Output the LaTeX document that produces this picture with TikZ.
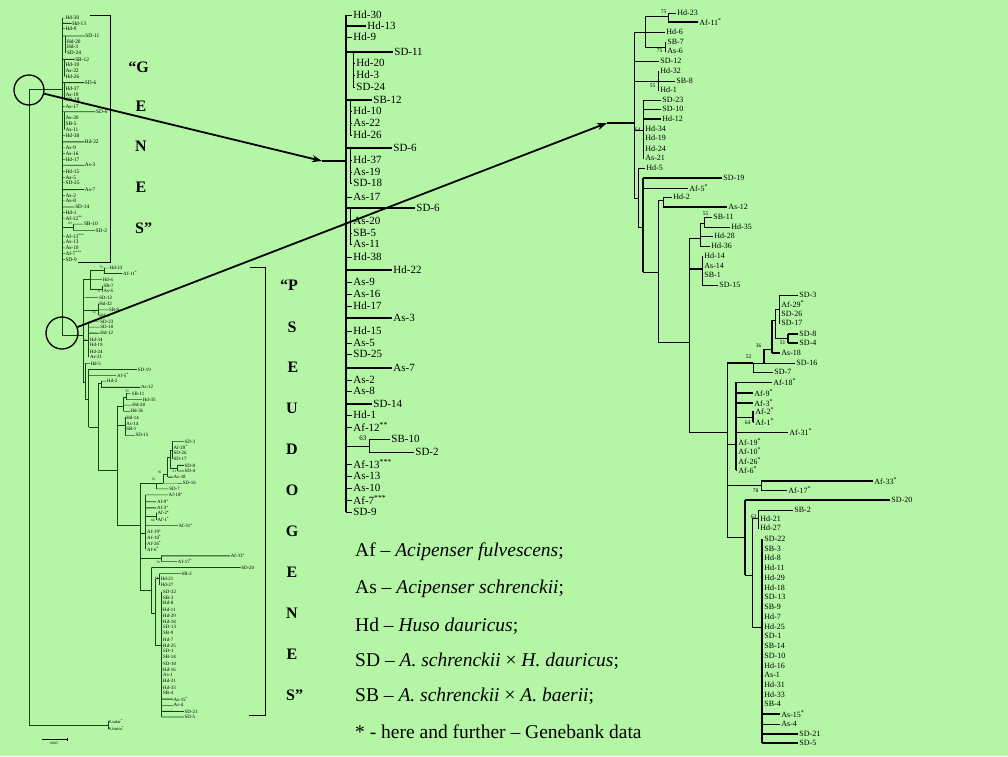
\documentclass[tikz,border=0pt]{standalone}
\usepackage{fontspec}
\setmainfont{Liberation Serif}
\usetikzlibrary{arrows.meta}
\definecolor{bg}{RGB}{180,246,166}
\definecolor{dg}{RGB}{20,70,20}

\newcount\lfno
\newcommand\lf[5]{\global\advance\lfno by 1\relax
  \node[leaf] (#1l\the\lfno) at (#3,#4) {#5};
  \draw[br] (#2,#4) -- (#1l\the\lfno.west);}
\newcommand\lft[5]{\global\advance\lfno by 1\relax
  \node[leaf] (#1l\the\lfno) at (#3,#4) {#5};
  \draw[thk] (#2,#4) -- (#1l\the\lfno.west);}
\newcommand\vl[3]{\draw[br] (#1,#2) -- (#1,#3);}
\newcommand\vlt[3]{\draw[thk] (#1,#2) -- (#1,#3);}
\newcommand\hl[3]{\draw[br] (#2,#1) -- (#3,#1);}
\newcommand\hlt[3]{\draw[thk] (#2,#1) -- (#3,#1);}
\newcommand\bs[4]{\node[boot] (#1) at (#2,#3) {#4};}
\newcommand\st{\textsuperscript{*}}

\newcommand\genestree[1]{%
  \hlt{161}{322}{346}
  \vlt{346}{15}{512}
  \lf{#1}{346}{352}{15}{Hd-30}
  \lft{#1}{346}{366}{26}{Hd-13}
  \lf{#1}{346}{352}{37}{Hd-9}
  \vl{353}{52}{87}
  \lft{#1}{346}{393}{52}{SD-11}
  \lf{#1}{353}{355}{63}{Hd-20}
  \lf{#1}{353}{355}{75}{Hd-3}
  \lf{#1}{353}{355}{87}{SD-24}
  \vl{350}{100}{135}
  \lft{#1}{346}{372}{100}{SB-12}
  \lf{#1}{350}{352}{111}{Hd-10}
  \lf{#1}{350}{352}{123}{As-22}
  \lf{#1}{350}{352}{135}{Hd-26}
  \vl{350}{148}{183}
  \lft{#1}{346}{392}{148}{SD-6}
  \lf{#1}{350}{352}{160}{Hd-37}
  \lf{#1}{350}{352}{172}{As-19}
  \lf{#1}{350}{352}{183}{SD-18}
  \lf{#1}{346}{352}{197}{As-17}
  \vl{350}{208}{244}
  \lft{#1}{346}{415}{208}{SD-6}
  \lf{#1}{350}{352}{221}{As-20}
  \lf{#1}{350}{352}{233}{SB-5}
  \lf{#1}{350}{352}{244}{As-11}
  \lf{#1}{346}{352}{257}{Hd-38}
  \lft{#1}{346}{392}{270}{Hd-22}
  \lf{#1}{346}{352}{282}{As-9}
  \lf{#1}{346}{352}{294}{As-16}
  \lf{#1}{346}{352}{306}{Hd-17}
  \lft{#1}{346}{392}{318}{As-3}
  \lf{#1}{346}{352}{331}{Hd-15}
  \lf{#1}{346}{352}{343}{As-5}
  \lf{#1}{346}{352}{354}{SD-25}
  \lft{#1}{346}{392}{368}{As-7}
  \lf{#1}{346}{352}{380}{As-2}
  \lf{#1}{346}{352}{391}{As-8}
  \lft{#1}{346}{372}{404}{SD-14}
  \lf{#1}{346}{352}{415}{Hd-1}
  \lf{#1}{346}{352}{427}{Af-12\textsuperscript{**}}
  \hl{446}{346}{369}
  \vl{369}{439}{452}
  \bs{#1b63}{367}{438}{63}
  \lf{#1}{369}{390}{439}{SB-10}
  \lf{#1}{369}{414}{452}{SD-2}
  \lf{#1}{346}{352}{464}{Af-13\textsuperscript{***}}
  \lf{#1}{346}{352}{476}{As-13}
  \lf{#1}{346}{352}{488}{As-10}
  \lf{#1}{346}{352}{500}{Af-7\textsuperscript{***}}
  \lf{#1}{346}{352}{512}{SD-9}
}

\newcommand\pseudotree[1]{%
  \hlt{123}{607}{634}
  \vl{634}{32}{198}
  \hl{32}{634}{645} \vl{645}{16}{47}
  \hl{16}{645}{668} \vl{668}{13}{22}
  \bs{#1b1}{667}{12}{75}
  \lf{#1}{668}{676}{13}{Hd-23}
  \lft{#1}{668}{698}{22}{Af-11\st}
  \lf{#1}{645}{665}{32}{Hd-6}
  \hl{47}{645}{665} \vl{665}{42}{51}
  \lf{#1}{665}{666}{42}{SB-7}
  \lf{#1}{665}{666}{51}{As-6}
  \bs{#1b2}{663}{51}{75}
  \lf{#1}{634}{659}{61}{SD-12}
  \hl{81}{634}{658} \vl{658}{71}{90}
  \lf{#1}{658}{659}{71}{Hd-32}
  \lf{#1}{658}{675}{81}{SB-8}
  \lf{#1}{658}{659}{90}{Hd-1}
  \bs{#1b3}{656}{86}{55}
  \hl{130}{634}{643} \vl{643}{100}{158}
  \bs{#1b4}{641}{130}{64}
  \lf{#1}{643}{661}{100}{SD-23}
  \lf{#1}{643}{661}{109}{SD-10}
  \lft{#1}{643}{661}{119}{Hd-12}
  \lf{#1}{643}{644}{129}{Hd-34}
  \lf{#1}{643}{644}{138}{Hd-19}
  \lf{#1}{643}{644}{149}{Hd-24}
  \lf{#1}{643}{644}{158}{As-21}
  \hl{198}{634}{638} \vl{638}{168}{227}
  \lf{#1}{638}{645}{168}{Hd-5}
  \hl{227}{638}{643} \vlt{643}{178}{272}
  \lft{#1}{643}{722}{178}{SD-19}
  \lf{#1}{643}{688}{188}{Af-5\st}
  \hl{272}{643}{658} \vl{658}{200}{342}
  \hl{200}{658}{663} \vl{663}{197}{207}
  \lf{#1}{663}{672}{197}{Hd-2}
  \lft{#1}{663}{727}{207}{As-12}
  \hl{342}{658}{689} \vl{689}{238}{432}
  \hl{238}{689}{700} \vl{700}{223}{246}
  \hl{223}{700}{704} \vl{704}{217}{227}
  \bs{#1b5}{709}{214}{55}
  \lf{#1}{704}{712}{217}{SB-11}
  \lf{#1}{704}{730}{227}{Hd-35}
  \lf{#1}{700}{713}{236}{Hd-28}
  \lf{#1}{700}{710}{246}{Hd-36}
  \hlt{269}{689}{702} \vl{702}{256}{285}
  \lf{#1}{702}{703}{256}{Hd-14}
  \lf{#1}{702}{703}{266}{As-14}
  \lf{#1}{702}{703}{275}{SB-1}
  \lf{#1}{702}{718}{285}{SD-15}
  \hl{432}{689}{727} \vl{727}{363}{537}
  \hlt{363}{727}{753} \vl{753}{363}{372}
  \bs{#1b6}{752}{357}{52}
  \lf{#1}{753}{773}{372}{SD-7}
  \hl{363}{753}{764} \vlt{764}{349}{363}
  \bs{#1b7}{762}{346}{36}
  \lf{#1}{764}{795}{363}{SD-16}
  \hl{349}{764}{772} \vlt{772}{320}{353}
  \lft{#1}{772}{780}{353}{As-18}
  \hl{320}{772}{775} \vl{775}{309}{338}
  \hl{338}{775}{788} \vlt{788}{334}{343}
  \lft{#1}{788}{798}{334}{SD-8}
  \lft{#1}{788}{798}{343}{SD-4}
  \bs{#1b8}{786}{343}{51}
  \hl{309}{775}{779} \vl{779}{295}{323}
  \lf{#1}{779}{798}{295}{SD-3}
  \lf{#1}{779}{780}{304}{Af-29\st}
  \lf{#1}{779}{780}{314}{SD-26}
  \lf{#1}{779}{780}{323}{SD-17}
  \hl{444}{727}{736} \vlt{736}{382}{470}
  \lf{#1}{736}{772}{382}{Af-18\st}
  \lft{#1}{736}{753}{393}{Af-9\st}
  \lft{#1}{736}{753}{403}{Af-3\st}
  \hl{417}{736}{753} \vlt{753}{411}{422}
  \lf{#1}{753}{754}{411}{Af-2\st}
  \lf{#1}{753}{754}{422}{Af-1\st}
  \bs{#1b9}{751}{423}{64}
  \lf{#1}{736}{788}{432}{Af-31\st}
  \lf{#1}{736}{737}{442}{Af-19\st}
  \lf{#1}{736}{737}{451}{Af-10\st}
  \lf{#1}{736}{737}{461}{Af-26\st}
  \lf{#1}{736}{737}{470}{Af-6\st}
  \hl{485}{727}{761} \vl{761}{481}{490}
  \lft{#1}{761}{873}{481}{Af-33\st}
  \lf{#1}{761}{787}{490}{Af-17\st}
  \bs{#1b10}{759}{491}{78}
  \hl{537}{727}{745} \vlt{745}{500}{575}
  \lft{#1}{745}{890}{500}{SD-20}
  \hl{575}{745}{752} \vl{752}{518}{627}
  \hl{518}{752}{758} \vl{758}{510}{528}
  \bs{#1b11}{757}{517}{63}
  \lf{#1}{758}{793}{510}{SB-2}
  \lf{#1}{758}{759}{519}{Hd-21}
  \lf{#1}{758}{759}{528}{Hd-27}
  \hl{627}{752}{762} \vlt{762}{539}{743}
  \lf{#1}{762}{763}{539}{SD-22}
  \lf{#1}{762}{763}{549}{SB-3}
  \lf{#1}{762}{763}{558}{Hd-8}
  \lf{#1}{762}{763}{568}{Hd-11}
  \lf{#1}{762}{763}{578}{Hd-29}
  \lf{#1}{762}{763}{588}{Hd-18}
  \lf{#1}{762}{763}{597}{SD-13}
  \lf{#1}{762}{763}{607}{SB-9}
  \lf{#1}{762}{763}{617}{Hd-7}
  \lf{#1}{762}{763}{627}{Hd-25}
  \lf{#1}{762}{763}{636}{SD-1}
  \lf{#1}{762}{763}{646}{SB-14}
  \lf{#1}{762}{763}{656}{SD-10}
  \lf{#1}{762}{763}{666}{Hd-16}
  \lf{#1}{762}{763}{675}{As-1}
  \lf{#1}{762}{763}{685}{Hd-31}
  \lf{#1}{762}{763}{695}{Hd-33}
  \lf{#1}{762}{763}{704}{SB-4}
  \lft{#1}{762}{780}{714}{As-15\st}
  \lf{#1}{762}{780}{724}{As-4}
  \lft{#1}{762}{798}{734}{SD-21}
  \lft{#1}{762}{798}{743}{SD-5}
}

\begin{document}
\begin{tikzpicture}[x=1pt,y=-1pt,
  leaf/.style={anchor=west,inner xsep=1.2pt,inner ysep=0pt,font=\fontsize{11}{11}\selectfont},
  boot/.style={anchor=east,inner sep=0.5pt,font=\fontsize{7}{7}\selectfont},
  br/.style={line width=0.9pt},
  thk/.style={line width=1.9pt},
  letter/.style={inner sep=0pt,font=\fontsize{16}{16}\selectfont\bfseries},
  legend/.style={anchor=west,inner sep=0pt,font=\fontsize{19.5}{19.5}\selectfont},
  arr/.style={line width=1.8pt,-{Stealth[length=10pt,width=7pt]}},
  ring/.style={circle,draw,line width=1.3pt,inner sep=0pt,minimum size=#1}]

\fill[bg] (0,0) rectangle (1008,756);
\useasboundingbox (0,0) rectangle (1008,756);

% ---------- middle tree (genes, enlarged)
\genestree{m}

% ---------- right tree (pseudogenes, enlarged)
\begin{scope}[leaf/.append style={font=\fontsize{8}{8}\selectfont},
              boot/.append style={font=\fontsize{5.5}{5.5}\selectfont},
              br/.style={line width=0.8pt}, thk/.style={line width=1.6pt}]
\pseudotree{r}
\end{scope}

% ---------- left overview tree
\begin{scope}[shift={(-106.2,10.7)},scale=0.486,transform shape,
              br/.style={line width=0.45pt,dg}, thk/.style={line width=0.9pt,dg}]
\genestree{lg}
\end{scope}
\begin{scope}[shift={(-306.9,260)},scale=0.615,transform shape,
              leaf/.append style={font=\fontsize{8}{8}\selectfont},
              boot/.append style={font=\fontsize{5.5}{5.5}\selectfont},
              br/.style={line width=0.45pt,dg}, thk/.style={line width=0.9pt,dg}]
\pseudotree{lp}
\end{scope}
\draw[line width=0.8pt,dg] (29,89) -- (62,89);
\draw[line width=0.8pt,dg] (62,89) -- (62,335.6) -- (67,335.6);
\draw[line width=0.8pt,dg] (29,89) -- (29,725) -- (108,725);
\draw[line width=0.6pt,dg] (108,721) -- (108,729);
\node[anchor=west,inner sep=0.5pt,font=\fontsize{4.5}{4.5}\selectfont] (salar) at (108,721.5) {S.salar\st};
\node[anchor=west,inner sep=0.5pt,font=\fontsize{4.5}{4.5}\selectfont] (trutta) at (108,728.5) {S.trutta\st};
\draw[line width=0.6pt] (42,739) -- (67,739);
\draw[line width=0.6pt] (67,737.5) -- (67,740.5);
\node[inner sep=0pt,font=\fontsize{3.5}{3.5}\selectfont] (scalelbl) at (54,744) {0,005};

% brackets
\draw[line width=0.9pt] (90,15) -- (110,15) -- (110,262) -- (78,262);
\draw[line width=0.9pt] (250,267) -- (265,267) -- (265,715) -- (249,715);

% circles and arrows
\node[ring=30pt] (circ1) at (29,90) {};
\node[ring=32pt] (circ2) at (62,333) {};
\coordinate (mstub) at (322,161);
\coordinate (rstub) at (607,123);
\draw[arr] (circ1) -- (mstub);
\draw[arr] (circ2) -- (rstub);

% GENES
\node[letter,anchor=east] (g1) at (149,67) {“G};
\node[letter] (g2) at (141,106) {E};
\node[letter] (g3) at (141,146) {N};
\node[letter] (g4) at (141,187) {E};
\node[letter,anchor=west] (g5) at (135,228) {S”};
% PSEUDOGENES
\node[letter,anchor=east] (p1) at (298,285) {“P};
\node[letter] (p2) at (292,327) {S};
\node[letter] (p3) at (293,367) {E};
\node[letter] (p4) at (292,408) {U};
\node[letter] (p5) at (292,449) {D};
\node[letter] (p6) at (292,490) {O};
\node[letter] (p7) at (292,531) {G};
\node[letter] (p8) at (292,572) {E};
\node[letter] (p9) at (292,613) {N};
\node[letter] (p10) at (292,654) {E};
\node[letter,anchor=west] (p11) at (286,695) {S”};

% legend
\node[legend] (lg1) at (355,552) {Af – \textit{Acipenser fulvescens};};
\node[legend] (lg2) at (355,589) {As – \textit{Acipenser schrenckii};};
\node[legend] (lg3) at (355,626) {Hd – \textit{Huso dauricus};};
\node[legend] (lg4) at (355,661) {SD – \textit{A. schrenckii} × \textit{H. dauricus};};
\node[legend] (lg5) at (355,696) {SB – \textit{A. schrenckii} × \textit{A. baerii};};
\node[legend] (lg6) at (355,732) {* - here and further – Genebank data};
\end{tikzpicture}
\end{document}
